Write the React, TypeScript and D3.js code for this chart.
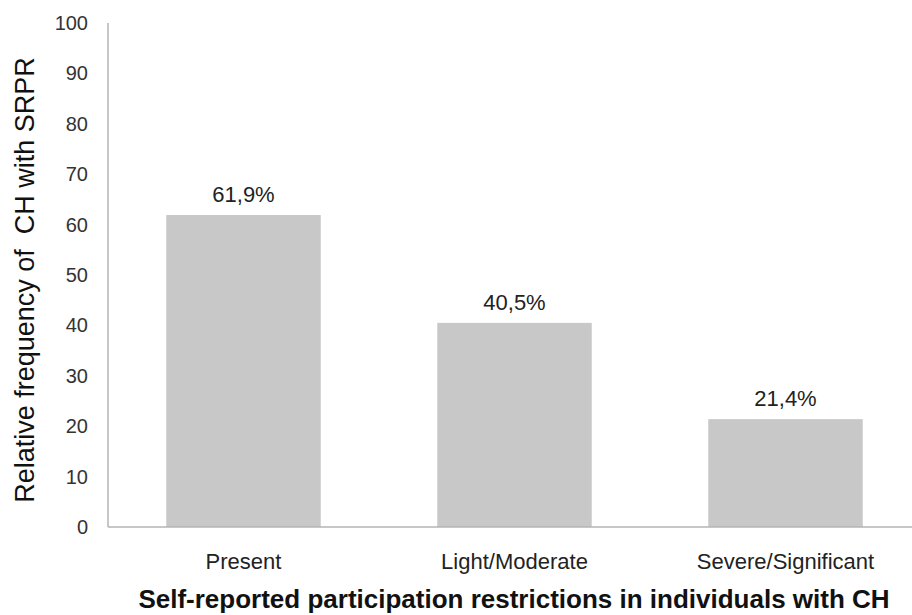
import * as d3 from "d3";
import { useEffect, useRef } from "react";

const categories = ["Present", "Light/Moderate", "Severe/Significant"];
const values = [61.9, 40.5, 21.4];
const valueLabels = ["61,9%", "40,5%", "21,4%"];
const yTicks = [0, 10, 20, 30, 40, 50, 60, 70, 80, 90, 100];

const W = 912;
const H = 615;
const FONT = "'Liberation Sans', Arial, sans-serif";

const App = () => {
  const ref = useRef<SVGSVGElement | null>(null);

  useEffect(() => {
    document.body.style.margin = "0";
    const svg = d3.select(ref.current);
    svg.selectAll("*").remove();

    // plot area
    const left = 108;
    const right = 921;
    const top = 23;
    const bottom = 527;

    const x = d3
      .scaleBand()
      .domain(categories)
      .range([left, right])
      .paddingInner(0.43)
      .paddingOuter(0.215);

    const y = d3.scaleLinear().domain([0, 100]).range([bottom, top]);

    // bars
    svg
      .selectAll(".bar")
      .data(categories)
      .enter()
      .append("rect")
      .attr("class", "bar")
      .attr("x", (d) => x(d)!)
      .attr("y", (d, i) => y(values[i]))
      .attr("width", x.bandwidth())
      .attr("height", (d, i) => bottom - y(values[i]))
      .style("fill", "#c8c8c8");

    // value labels
    svg
      .selectAll(".val")
      .data(categories)
      .enter()
      .append("text")
      .attr("class", "val")
      .attr("x", (d) => x(d)! + x.bandwidth() / 2)
      .attr("y", (d, i) => y(values[i]) - 13)
      .attr("text-anchor", "middle")
      .style("font-family", FONT)
      .style("font-size", "22px")
      .style("fill", "#222")
      .text((d, i) => valueLabels[i]);

    // axes lines
    svg
      .append("line")
      .attr("x1", left)
      .attr("x2", left)
      .attr("y1", top)
      .attr("y2", bottom)
      .style("stroke", "#b4b4b4")
      .style("stroke-width", 1.5);
    svg
      .append("line")
      .attr("x1", left)
      .attr("x2", W)
      .attr("y1", bottom)
      .attr("y2", bottom)
      .style("stroke", "#b4b4b4")
      .style("stroke-width", 1.5);

    // y tick labels
    svg
      .selectAll(".ytick")
      .data(yTicks)
      .enter()
      .append("text")
      .attr("class", "ytick")
      .attr("x", 88)
      .attr("y", (d) => y(d))
      .attr("dy", "0.35em")
      .attr("text-anchor", "end")
      .style("font-family", FONT)
      .style("font-size", "20px")
      .style("fill", "#333")
      .text((d) => d);

    // x tick labels
    svg
      .selectAll(".xtick")
      .data(categories)
      .enter()
      .append("text")
      .attr("class", "xtick")
      .attr("x", (d) => x(d)! + x.bandwidth() / 2)
      .attr("y", 569)
      .attr("text-anchor", "middle")
      .style("font-family", FONT)
      .style("font-size", "22px")
      .style("fill", "#222")
      .text((d) => d);

    // axis titles
    svg
      .append("text")
      .attr("x", 514)
      .attr("y", 608)
      .attr("text-anchor", "middle")
      .style("font-family", FONT)
      .style("font-size", "26px")
      .style("font-weight", "bold")
      .style("fill", "#111")
      .text("Self-reported participation restrictions in individuals with CH");

    svg
      .append("text")
      .attr("transform", "translate(34,280) rotate(-90)")
      .attr("text-anchor", "middle")
      .style("font-family", FONT)
      .style("font-size", "27px")
      .style("fill", "#111")
      .style("white-space", "pre")
      .text("Relative frequency of  CH with SRPR");
  }, []);

  return <svg ref={ref} width={W} height={H} style={{ display: "block", background: "#fff" }}></svg>;
};

export default App;
